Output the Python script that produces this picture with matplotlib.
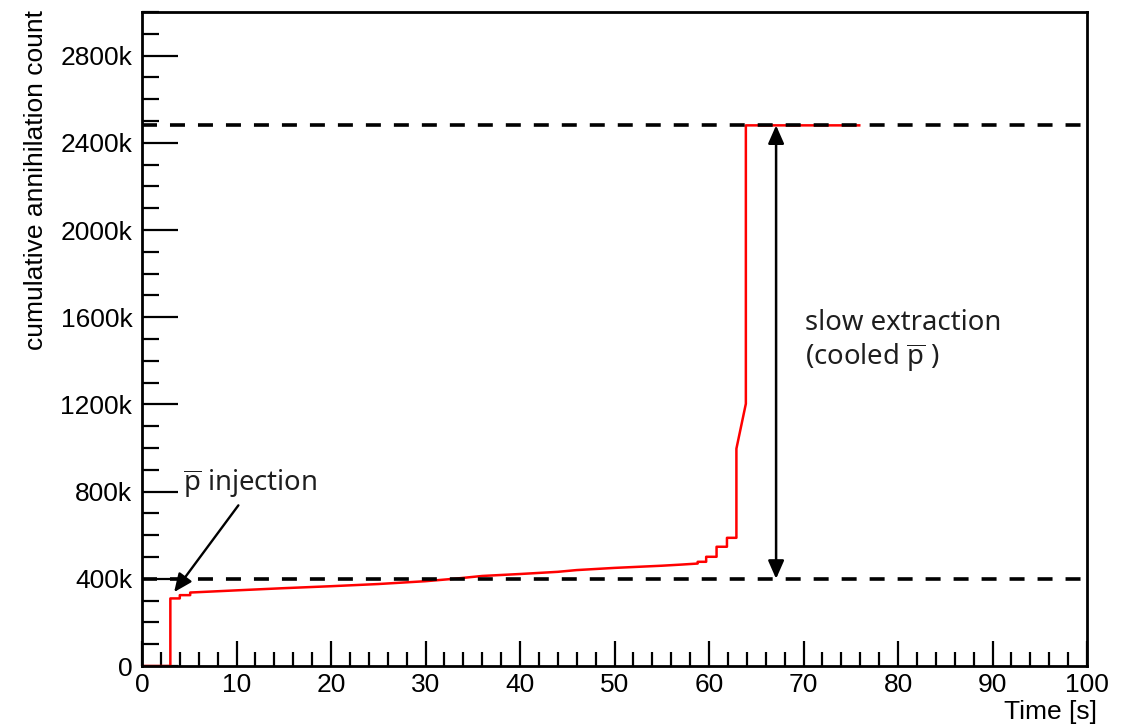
import matplotlib
matplotlib.use("Agg")
import matplotlib.pyplot as plt
from matplotlib.ticker import MultipleLocator, FuncFormatter

# Cumulative annihilation count (thousands) versus time (s)
time_s = [0, 3.0, 3.0, 4.0, 4.0, 5.1, 5.1, 10, 15, 20, 25, 30, 33, 36, 40, 44, 46,
          50, 55, 57, 58.8, 58.8, 59.7, 59.7, 60.8, 60.8, 61.9, 61.9, 62.9, 62.9,
          63.9, 63.9, 75.9]
count_k = [0, 0, 310, 310, 325, 325, 337, 347, 357, 366, 376, 389, 400, 413, 422, 432, 440,
           450, 460, 465, 470, 478, 478, 501, 501, 547, 547, 588, 588, 997,
           1203, 2480, 2480]

# Reference levels before and after the slow extraction
level_before_k = 400
level_after_k = 2480
extraction_arrow_t = 67.1

injection_tip = (3.4, 339)
injection_tail = (10.2, 737)

x_label = "Time [s]"
y_label = "cumulative annihilation count"
pbar = r"$\overline{\mathrm{p}}$"
injection_text = pbar + " injection"
extraction_text = ["slow extraction", "(cooled " + pbar + " )"]

axis_font = "Liberation Sans"
note_font = "Noto Sans"

plt.rcParams["mathtext.fontset"] = "custom"
plt.rcParams["mathtext.rm"] = note_font

fig = plt.figure(figsize=(11.37, 7.27), dpi=100)
ax = fig.add_axes([142 / 1137, 61 / 727, 945 / 1137, 654 / 727])

ax.plot(time_s, count_k, color="#ff0000", lw=1.8, zorder=2)

lw_dash = 2.6
for lvl in (level_before_k, level_after_k):
    ax.axhline(lvl, color="black", lw=lw_dash, dashes=(4.15, 3.6), zorder=3)

ax.annotate("", xy=(extraction_arrow_t, level_after_k), xytext=(extraction_arrow_t, level_before_k),
            arrowprops=dict(arrowstyle="<|-|>,head_length=0.5,head_width=0.22", color="black",
                            lw=1.8, mutation_scale=22, shrinkA=0, shrinkB=0), zorder=4)
ax.annotate("", xy=injection_tip, xytext=injection_tail,
            arrowprops=dict(arrowstyle="-|>,head_length=0.5,head_width=0.22", color="black",
                            lw=1.7, mutation_scale=22, shrinkA=0, shrinkB=0), zorder=4)

note_size = 19.8
ax.text(4.35, 805, injection_text, family=note_font, fontsize=note_size, color="#1e1e1e",
        ha="left", va="baseline")
ax.text(70.2, 1539, extraction_text[0], family=note_font, fontsize=note_size, color="#1e1e1e",
        ha="left", va="baseline")
ax.text(70.2, 1379, extraction_text[1], family=note_font, fontsize=note_size, color="#1e1e1e",
        ha="left", va="baseline")

ax.set_xlim(0, 100)
ax.set_ylim(0, 3000)
ax.xaxis.set_major_locator(MultipleLocator(10))
ax.xaxis.set_minor_locator(MultipleLocator(2))
ax.yaxis.set_major_locator(MultipleLocator(400))
ax.yaxis.set_minor_locator(MultipleLocator(100))
ax.yaxis.set_major_formatter(FuncFormatter(lambda v, p: "0" if v == 0 else f"{int(v)}k"))

ax.tick_params(axis="both", which="both", direction="in", top=False, right=False,
               width=1.6, colors="black")
ax.tick_params(axis="x", which="major", length=18, pad=5, labelsize=19)
ax.tick_params(axis="x", which="minor", length=10)
ax.tick_params(axis="y", which="major", length=26, pad=7, labelsize=19)
ax.tick_params(axis="y", which="minor", length=12)
for lab in ax.get_xticklabels() + ax.get_yticklabels():
    lab.set_family(axis_font)

for sp in ax.spines.values():
    sp.set_linewidth(2.0)

ax.set_xlabel(x_label, family=axis_font, fontsize=19, loc="right")
ax.set_ylabel(y_label, family=axis_font, fontsize=19, loc="top")
ax.xaxis.set_label_coords(1.0106, -0.052)
ax.yaxis.set_label_coords(-0.099, 1.003)

fig.savefig("out.png", dpi=100)
